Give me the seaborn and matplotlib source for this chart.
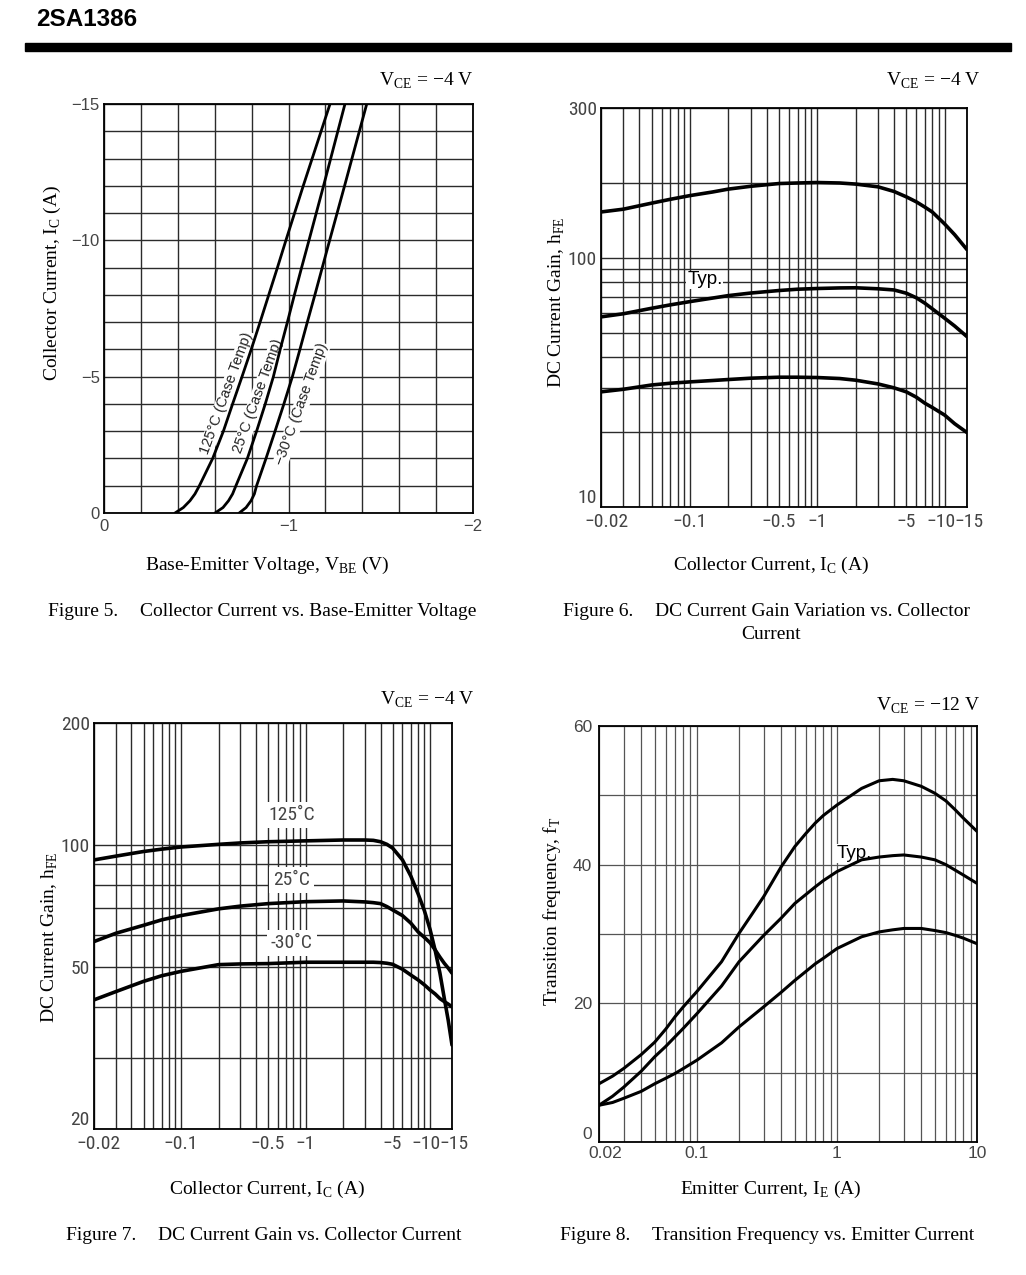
import os
import numpy as np
import pandas as pd
import matplotlib
matplotlib.use("Agg")
import matplotlib.pyplot as plt
import seaborn as sns
from matplotlib import font_manager
from matplotlib.transforms import ScaledTranslation
from matplotlib.ticker import FixedLocator, FixedFormatter, MultipleLocator, NullFormatter

# ---- Figure 5: I_C vs V_BE (values as printed, negative) ----
ic5 = [0, -0.2, -0.45, -0.7, -1, -2, -3, -4, -5, -6, -7, -8, -9, -10, -12, -15]
vbe5_125 = [-0.385, -0.43, -0.466, -0.493, -0.517, -0.589, -0.647, -0.697, -0.748, -0.798,
            -0.846, -0.893, -0.94, -0.986, -1.08, -1.225]
vbe5_25 = [-0.602, -0.645, -0.675, -0.697, -0.715, -0.777, -0.827, -0.874, -0.918, -0.955,
           -0.994, -1.032, -1.071, -1.111, -1.19, -1.306]
vbe5_m30 = [-0.733, -0.77, -0.797, -0.815, -0.827, -0.878, -0.927, -0.975, -1.021, -1.062,
            -1.102, -1.143, -1.183, -1.223, -1.304, -1.424]
labels5 = ["125°C (Case Temp)", "25°C (Case Temp)", "\u221230°C (Case Temp)"]

# ---- Figure 6: hFE variation vs |I_C| ----
ic6 = [0.02, 0.03, 0.05, 0.07, 0.1, 0.15, 0.2, 0.3, 0.5, 0.7, 1, 1.5, 2, 3, 4, 5, 6, 7, 8,
       10, 12, 15]
hfe6_max = [153, 157, 166, 172, 178, 184, 189, 194, 199, 200, 200.5, 200, 198, 193, 185, 176,
            168, 160, 153, 137, 124, 108]
hfe6_typ = [58, 59.7, 62.8, 64.8, 66.8, 69, 70.6, 72.3, 74, 74.9, 75.4, 75.8, 75.9, 75.2, 74.4,
            72.2, 69.2, 65.8, 62.5, 57.3, 53.3, 48.3]
hfe6_min = [29, 29.7, 30.9, 31.4, 31.8, 32.2, 32.5, 32.9, 33.2, 33.2, 33.1, 32.8, 32.3, 31.2,
            30.1, 29.0, 27.6, 26.1, 25.1, 23.4, 21.6, 19.9]

# ---- Figure 7: hFE vs |I_C| by temperature ----
ic7 = [0.02, 0.03, 0.05, 0.07, 0.1, 0.2, 0.3, 0.5, 1, 2, 3, 3.5, 4, 4.5, 5, 6, 7, 8, 9, 10,
       11, 12, 13, 14, 15]
hfe7_125 = [92, 94, 96.5, 97.8, 99, 100.5, 101.3, 102, 102.5, 103, 103, 102.8, 102, 100.5,
            98.4, 92, 84, 76, 69, 62, 55, 48.4, 42, 37, 32.2]
hfe7_25 = [57.9, 60.7, 63.5, 65.5, 67.1, 69.7, 70.8, 71.8, 72.6, 72.9, 72.5, 72.2, 71.8, 70.6,
           69.3, 67.1, 64.3, 61.2, 59.3, 57.5, 55.2, 53, 51.2, 49.8, 48.4]
hfe7_m30 = [41.6, 43.6, 46.2, 47.7, 48.9, 50.8, 51.0, 51.1, 51.5, 51.5, 51.5, 51.5, 51.4, 51.2,
            50.9, 49.5, 47.9, 46.6, 45.3, 44, 43, 41.9, 41.2, 40.6, 40]
labels7 = ["125˚C", "25˚C", "-30˚C"]
label7_y = [118.8, 82.2, 57.4]

# ---- Figure 8: fT vs I_E ----
ie8 = [0.02, 0.025, 0.03, 0.04, 0.05, 0.06, 0.07, 0.08, 0.1, 0.15, 0.2, 0.25, 0.3, 0.4, 0.5,
       0.6, 0.7, 0.8, 1, 1.5, 2, 2.5, 3, 4, 5, 6, 7, 8, 10]
ft8_max = [8.4, 9.5, 10.6, 12.6, 14.4, 16.3, 18.1, 19.5, 21.7, 26.0, 30.1, 33.0, 35.4, 39.7,
           42.6, 44.5, 46, 47.1, 48.6, 51, 52.1, 52.3, 52.1, 51.3, 50.3, 49.2, 47.9, 46.7, 44.8]
ft8_typ = [5.3, 6.6, 7.9, 10.2, 12.3, 13.8, 15.2, 16.4, 18.5, 22.5, 26, 28.1, 29.8, 32.3, 34.4,
           35.7, 36.8, 37.7, 39, 40.7, 41.1, 41.3, 41.4, 41.1, 40.7, 40, 39.2, 38.5, 37.3]
ft8_min = [5.3, 5.7, 6.3, 7.3, 8.4, 9.2, 9.9, 10.6, 11.8, 14.3, 16.6, 18.2, 19.5, 21.6, 23.3,
           24.6, 25.7, 26.5, 27.9, 29.6, 30.3, 30.6, 30.8, 30.8, 30.5, 30.2, 29.8, 29.4, 28.6]

log_ticks_ic = [0.02, 0.1, 0.5, 1, 5, 10, 15]
log_ticks_ic_num = ["0.02", "0.1", "0.5", "1", "5", "10", "15"]

sns.set_theme(style="white")
SERIF = ["Liberation Serif", "DejaVu Serif"]
SANS = ["Liberation Sans", "DejaVu Sans"]
plt.rcParams["font.family"] = SERIF
plt.rcParams["axes.unicode_minus"] = True
plt.rcParams["axes.axisbelow"] = True


def find_narrow_font():
    """Look for an installed condensed sans face (the scans use one)."""
    prefs = ["LiberationSansNarrow-Regular", "ArialNarrow", "RobotoCondensed-Regular",
             "NotoSans-Condensed.", "OpenSans_Condensed-Regular", "DejaVuSansCondensed."]
    files = [f.fname for f in font_manager.fontManager.ttflist]
    for p in prefs:
        for fn in files:
            if p.lower() in os.path.basename(fn).lower():
                return font_manager.FontProperties(fname=fn)
    for f in font_manager.fontManager.ttflist:
        if str(f.stretch) in ("condensed", "semi-condensed") and f.style == "normal" \
                and f.weight in (400, "normal", "regular"):
            return font_manager.FontProperties(fname=f.fname)
    return None


NARROW_FP = find_narrow_font()
if NARROW_FP is not None:
    NARROW_SIZE = 14
    MINUS = "\u2212"
else:
    NARROW_FP = font_manager.FontProperties(family=SANS)
    NARROW_SIZE = 11.5
    MINUS = "-"
log_ticks_ic_lbl = [MINUS + s for s in log_ticks_ic_num]

W, H = 1026, 1275
fig = plt.figure(figsize=(W / 100, H / 100), dpi=100)
fig.patch.set_facecolor("white")


def box(l, t, r, b):
    return [l / W, 1 - b / H, (r - l) / W, (b - t) / H]


def ftext(x, y, s, **kw):
    kw.setdefault("family", SERIF)
    kw.setdefault("fontsize", 14)
    kw.setdefault("va", "center")
    fig.text(x / W, 1 - y / H, s, color="black", **kw)


def nudge(label, dx_px, dy_px=0):
    label.set_transform(label.get_transform()
                        + ScaledTranslation(dx_px / 100, dy_px / 100, fig.dpi_scale_trans))


def decade_grid(lo, hi):
    vals = []
    for e in range(-2, 2):
        for m in range(1, 10):
            v = m * 10.0 ** e
            if lo - 1e-9 <= v <= hi + 1e-9:
                vals.append(v)
    return vals


def style_axes(ax, grid_color="#2b2b2b", grid_lw=1.0):
    ax.grid(True, which="both", color=grid_color, lw=grid_lw)
    ax.tick_params(which="both", length=0)
    for sp in ax.spines.values():
        sp.set_visible(True)
        sp.set_color("black")
        sp.set_linewidth(1.3)
    ax.set_xlabel("")
    ax.set_ylabel("")


def narrow_ticklabels(ax):
    xl = ax.get_xticklabels()
    yl = ax.get_yticklabels()
    for lab in xl + yl:
        lab.set_fontproperties(NARROW_FP)
        lab.set_fontsize(NARROW_SIZE)
        lab.set_color("#444444")
    # lowest y label sits just above the corner, as on the sheet
    yl[0].set_va("bottom")
    # the crowded right end and the corner label are set apart a little
    nudge(xl[0], 5)
    nudge(xl[5], -4)
    nudge(xl[6], 2)


def draw_curves(ax, x, ys, lw):
    for y in ys:
        sns.lineplot(x=x, y=y, ax=ax, color="black", lw=lw, sort=False,
                     estimator=None, zorder=3)


# header
ftext(36, 20, "2SA1386", family=SANS, fontsize=17.5, fontweight="bold")
fig.add_artist(plt.Rectangle((25 / W, 1 - 51 / H), (1011 - 25) / W, 8 / H,
                             transform=fig.transFigure, color="black"))

# ---------------- Figure 5 ----------------
ax5 = fig.add_axes(box(104, 104, 473, 513))
for v in (vbe5_125, vbe5_25, vbe5_m30):
    sns.lineplot(x=v, y=ic5, ax=ax5, color="black", lw=2.0, sort=False,
                 estimator=None, zorder=3)
ax5.set_xlim(0, -2)
ax5.set_ylim(0, -15)
ax5.xaxis.set_major_locator(FixedLocator([0, -1, -2]))
ax5.yaxis.set_major_locator(FixedLocator([0, -5, -10, -15]))
ax5.xaxis.set_minor_locator(MultipleLocator(0.2))
ax5.yaxis.set_minor_locator(MultipleLocator(1))
style_axes(ax5)
ax5.tick_params(labelsize=12, labelcolor="#444444", labelfontfamily=SANS)
ax5.tick_params(axis="x", pad=4)
ax5.tick_params(axis="y", pad=3)
lab5_xy = [(-0.665, -4.41), (-0.836, -4.29), (-1.071, -3.98)]
for (lx, ly), s in zip(lab5_xy, labels5):
    ax5.text(lx, ly, s, rotation=70, rotation_mode="anchor", ha="center", va="center",
             family=SANS, fontsize=10.5, color="#222222", zorder=1.5,
             bbox=dict(facecolor="white", edgecolor="none", pad=0.5))

ftext(473, 81, "V$_\\mathregular{CE}$ = \u22124 V", ha="right")
ftext(52, 283, r"Collector Current, I$_\mathregular{C}$ (A)", rotation=90, ha="center")
ftext(267, 565, r"Base-Emitter Voltage, V$_\mathregular{BE}$ (V)", ha="center")
ftext(48, 611, "Figure 5.")
ftext(140, 611, "Collector Current vs. Base-Emitter Voltage")

# ---------------- Figure 6 ----------------
# the printed log axis is stretched above 200; reproduce it piecewise
L200 = np.log10(200.0)
K6 = 1.71


def fwd6(y):
    l = np.log10(np.clip(np.asarray(y, dtype=float), 1e-9, None))
    return np.where(l <= L200, l, L200 + (l - L200) * K6)


def inv6(t):
    t = np.asarray(t, dtype=float)
    return np.where(t <= L200, 10.0 ** t, 10.0 ** (L200 + (t - L200) / K6))


ax6 = fig.add_axes(box(601, 108, 967, 507))
draw_curves(ax6, ic6, (hfe6_max, hfe6_typ, hfe6_min), 2.6)
ax6.set_xscale("log")
ax6.set_yscale("function", functions=(fwd6, inv6))
ax6.set_xlim(0.02, 15)
ax6.set_ylim(10, 300)
ax6.xaxis.set_major_locator(FixedLocator(log_ticks_ic))
ax6.xaxis.set_major_formatter(FixedFormatter(log_ticks_ic_lbl))
ax6.xaxis.set_minor_locator(FixedLocator(decade_grid(0.02, 10) + [15]))
ax6.xaxis.set_minor_formatter(NullFormatter())
ax6.yaxis.set_major_locator(FixedLocator([10, 100, 300]))
ax6.yaxis.set_major_formatter(FixedFormatter(["10", "100", "300"]))
ax6.yaxis.set_minor_locator(FixedLocator([20, 30, 40, 50, 60, 70, 80, 90, 200]))
ax6.yaxis.set_minor_formatter(NullFormatter())
style_axes(ax6)
ax6.tick_params(axis="x", pad=4)
ax6.tick_params(axis="y", pad=3)
narrow_ticklabels(ax6)
ax6.text(0.095, 81.7, "Typ.", ha="left", va="center", family=SANS, fontsize=13.5,
         color="black", zorder=1.5, bbox=dict(facecolor="white", edgecolor="none", pad=0.5))

ftext(980, 81, "V$_\\mathregular{CE}$ = \u22124 V", ha="right")
ftext(557, 302, r"DC Current Gain, h$_\mathregular{FE}$", rotation=90, ha="center")
ftext(771, 565, r"Collector Current, I$_\mathregular{C}$ (A)", ha="center")
ftext(563, 611, "Figure 6.")
ftext(655, 611, "DC Current Gain Variation vs. Collector")
ftext(771, 634, "Current", ha="center")

# ---------------- Figure 7 ----------------
ax7 = fig.add_axes(box(94, 723, 452, 1129))
draw_curves(ax7, ic7, (hfe7_125, hfe7_25, hfe7_m30), 2.6)
ax7.set_xscale("log")
ax7.set_yscale("log")
ax7.set_xlim(0.02, 15)
ax7.set_ylim(20, 200)
ax7.xaxis.set_major_locator(FixedLocator(log_ticks_ic))
ax7.xaxis.set_major_formatter(FixedFormatter(log_ticks_ic_lbl))
ax7.xaxis.set_minor_locator(FixedLocator(decade_grid(0.02, 10) + [15]))
ax7.xaxis.set_minor_formatter(NullFormatter())
ax7.yaxis.set_major_locator(FixedLocator([20, 50, 100, 200]))
ax7.yaxis.set_major_formatter(FixedFormatter(["20", "50", "100", "200"]))
ax7.yaxis.set_minor_locator(FixedLocator([30, 40, 60, 70, 80, 90]))
ax7.yaxis.set_minor_formatter(NullFormatter())
style_axes(ax7)
ax7.tick_params(axis="x", pad=4)
ax7.tick_params(axis="y", pad=3)
narrow_ticklabels(ax7)
for s, ly in zip(labels7, label7_y):
    t = ax7.text(0.776, ly, s, ha="center", va="center", color="#444444", zorder=1.5,
                 bbox=dict(facecolor="white", edgecolor="none", pad=2.5))
    t.set_fontproperties(NARROW_FP)
    t.set_fontsize(NARROW_SIZE if NARROW_SIZE > 12 else 13)

ftext(474, 700, "V$_\\mathregular{CE}$ = \u22124 V", ha="right")
ftext(50, 937, r"DC Current Gain, h$_\mathregular{FE}$", rotation=90, ha="center")
ftext(267, 1189, r"Collector Current, I$_\mathregular{C}$ (A)", ha="center")
ftext(66, 1236, "Figure 7.")
ftext(158, 1236, "DC Current Gain vs. Collector Current")

# ---------------- Figure 8 ----------------
ax8 = fig.add_axes(box(599, 726, 977, 1142))
draw_curves(ax8, ie8, (ft8_max, ft8_typ, ft8_min), 2.2)
ax8.set_xscale("log")
ax8.set_xlim(0.02, 10)
ax8.set_ylim(0, 60)
ax8.xaxis.set_major_locator(FixedLocator([0.02, 0.1, 1, 10]))
ax8.xaxis.set_major_formatter(FixedFormatter(["0.02", "0.1", "1", "10"]))
ax8.xaxis.set_minor_locator(FixedLocator(decade_grid(0.02, 10)))
ax8.xaxis.set_minor_formatter(NullFormatter())
ax8.yaxis.set_major_locator(FixedLocator([0, 20, 40, 60]))
ax8.yaxis.set_minor_locator(MultipleLocator(10))
style_axes(ax8, grid_color="#555555", grid_lw=0.9)
ax8.tick_params(labelsize=12.5, labelcolor="#444444", labelfontfamily=SANS)
ax8.tick_params(axis="x", pad=3)
ax8.tick_params(axis="y", pad=5)
ax8.get_yticklabels()[0].set_va("bottom")
nudge(ax8.get_xticklabels()[0], 6)
ax8.text(1.0, 41.6, "Typ.", ha="left", va="center", family=SANS, fontsize=13.5,
         color="black", zorder=1.5, bbox=dict(facecolor="white", edgecolor="none", pad=0.5))

ftext(980, 706, "V$_\\mathregular{CE}$ = \u221212 V", ha="right")
ftext(552, 911, r"Transition frequency, f$_\mathregular{T}$", rotation=90, ha="center")
ftext(771, 1189, r"Emitter Current, I$_\mathregular{E}$ (A)", ha="center")
ftext(560, 1236, "Figure 8.")
ftext(652, 1236, "Transition Frequency vs. Emitter Current")

fig.savefig("out.png", dpi=100, facecolor="white")
